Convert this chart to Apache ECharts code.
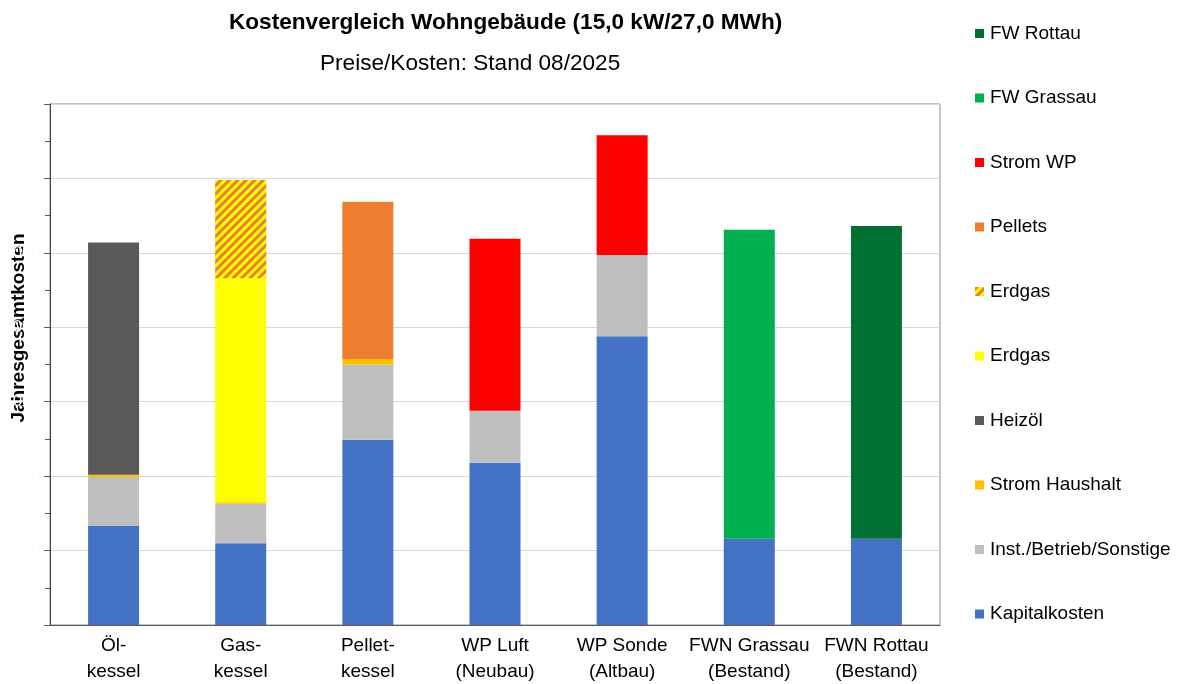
<!DOCTYPE html>
<html>
<head>
<meta charset="utf-8">
<title>Kostenvergleich Wohngebäude</title>
<script src="https://cdn.jsdelivr.net/npm/echarts@6/dist/echarts.min.js"></script>
<style>
  html, body { margin: 0; padding: 0; background: #ffffff; }
  #chart { width: 1180px; height: 684px; }
</style>
</head>
<body>
<div id="chart"></div>
<script>
// Heating systems compared
const categories = [
  'Öl-\nkessel', 'Gas-\nkessel', 'Pellet-\nkessel', 'WP Luft\n(Neubau)',
  'WP Sonde\n(Altbau)', 'FWN Grassau\n(Bestand)', 'FWN Rottau\n(Bestand)'
];

// Annual cost components (stacked from bottom to top)
const kapitalkosten  = [1330, 1100, 2490, 2180, 3880, 1160, 1160];
const instBetrieb    = [660, 530, 1010, 700, 1090, null, null];
const stromHaushalt  = [30, 20, 75, null, null, null, null];
const heizoel        = [3120, null, null, null, null, null, null];
const erdgas         = [null, 3010, null, null, null, null, null];
const erdgasZuschlag = [null, 1320, null, null, null, null, null];
const pellets        = [null, null, 2110, null, null, null, null];
const stromWP        = [null, null, null, 2310, 1610, null, null];
const fwGrassau      = [null, null, null, null, null, 4150, null];
const fwRottau       = [null, null, null, null, null, null, 4200];

// Value axis ticks
const yTicks = [0, 1000, 2000, 3000, 4000, 5000, 6000, 7000];

const FONT = "'Liberation Sans', Arial, sans-serif";

const seriesDefs = [
  { name: 'Kapitalkosten', data: kapitalkosten, color: '#4472C4' },
  { name: 'Inst./Betrieb/Sonstige', data: instBetrieb, color: '#BFBFBF' },
  { name: 'Strom Haushalt', data: stromHaushalt, color: '#FFC000' },
  { name: 'Heizöl', data: heizoel, color: '#595959' },
  { name: 'Erdgas', data: erdgas, color: '#FFFF00' },
  { name: 'Erdgas ', data: erdgasZuschlag, color: '#FFFF00',
    decal: {
      symbol: 'rect',
      symbolSize: 1,
      color: '#ED7D31',
      backgroundColor: '#FFFF00',
      dashArrayX: [1, 0],
      dashArrayY: [2.5, 2.5],
      rotation: -Math.PI / 4
    } },
  { name: 'Pellets', data: pellets, color: '#ED7D31' },
  { name: 'Strom WP', data: stromWP, color: '#FF0000' },
  { name: 'FW Grassau', data: fwGrassau, color: '#00B050' },
  { name: 'FW Rottau', data: fwRottau, color: '#007033' }
];

const chart = echarts.init(document.getElementById('chart'), null, { renderer: 'canvas' });

const option = {
  animation: false,
  backgroundColor: '#ffffff',
  textStyle: { fontFamily: FONT },
  title: [
    {
      text: 'Kostenvergleich Wohngebäude (15,0 kW/27,0 MWh)',
      left: 224, top: 5,
      textStyle: { fontFamily: FONT, fontSize: 22.6, fontWeight: 'bold', color: '#000000', lineHeight: 26 }
    },
    {
      text: 'Preise/Kosten: Stand 08/2025',
      left: 315, top: 46,
      textStyle: { fontFamily: FONT, fontSize: 22.6, fontWeight: 'normal', color: '#000000', lineHeight: 26 }
    }
  ],
  legend: {
    orient: 'vertical',
    left: 970,
    top: 17,
    itemWidth: 9,
    itemHeight: 9,
    itemGap: 41.5,
    icon: 'rect',
    selectedMode: false,
    data: seriesDefs.map(s => s.name).reverse(),
    formatter: name => name.trim(),
    textStyle: { fontFamily: FONT, fontSize: 19, color: '#000000', lineHeight: 23, padding: [0, 0, 0, 1] }
  },
  graphic: [
    {
      type: 'text',
      x: 19, y: 328,
      rotation: Math.PI / 2,
      style: {
        text: 'Jahresgesamtkosten',
        fill: '#000000',
        font: "bold 19px 'Liberation Sans', Arial, sans-serif",
        textAlign: 'center',
        textVerticalAlign: 'middle'
      }
    }
  ],
  grid: {
    left: 50, right: 240, top: 104, bottom: 59,
    outerBoundsMode: 'none',
    containLabel: false,
    show: true,
    borderColor: '#8c8c8c',
    borderWidth: 1,
    backgroundColor: 'transparent'
  },
  xAxis: {
    type: 'category',
    data: categories,
    axisLine: { show: true, lineStyle: { color: '#595959', width: 1 } },
    axisTick: { show: false },
    axisLabel: {
      margin: 8,
      fontFamily: FONT,
      fontSize: 19,
      lineHeight: 26,
      color: '#000000',
      interval: 0
    }
  },
  yAxis: {
    type: 'value',
    min: yTicks[0],
    max: yTicks[yTicks.length - 1],
    interval: yTicks[1] - yTicks[0],
    axisLine: { show: true, lineStyle: { color: '#404040', width: 1 } },
    axisTick: { show: true, length: 6, lineStyle: { color: '#595959' } },
    minorTick: { show: true, splitNumber: 2, length: 5, lineStyle: { color: '#595959' } },
    splitLine: { show: true, lineStyle: { color: '#d9d9d9', width: 1 } },
    axisLabel: {
      margin: 9,
      fontFamily: FONT,
      fontSize: 17,
      color: '#fcfcfc',
      formatter: v => v.toLocaleString('de-DE')
    }
  },
  series: seriesDefs.map(s => ({
    name: s.name,
    type: 'bar',
    stack: 'kosten',
    barWidth: 51,
    data: s.data,
    itemStyle: s.decal ? { color: s.color, decal: s.decal } : { color: s.color },
    emphasis: { disabled: true }
  }))
};

chart.setOption(option);
</script>
</body>
</html>
